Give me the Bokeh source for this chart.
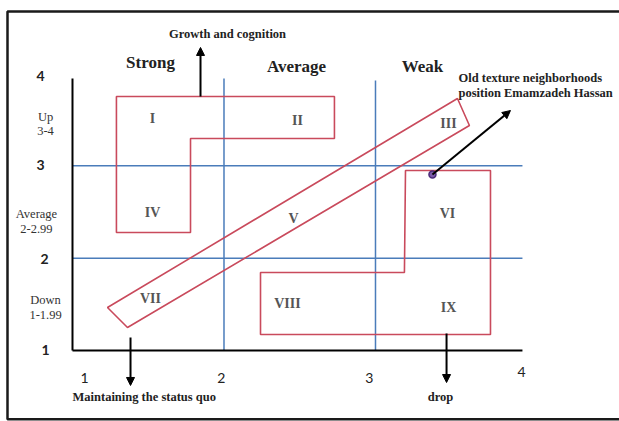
from bokeh.plotting import figure
from bokeh.models import Range1d, Arrow, NormalHead
from bokeh.core.properties import value
from bokeh.embed import file_html
from bokeh.resources import INLINE

# ---- data (diagram coordinates: x = performance score 1-4, y = trend score 1-4)
grid_x = [2, 3]
grid_y = [2, 3]
axis_x_end = 3.97
axis_y_end = 3.946

# zone polygons
zone_a_x = [1.290, 2.729, 2.729, 1.779, 1.779, 1.290]   # I, II, IV
zone_a_y = [3.751, 3.751, 3.296, 3.296, 2.278, 2.278]
zone_b_x = [1.231, 3.541, 3.620, 1.363]                 # VII, V, III band
zone_b_y = [1.466, 3.729, 3.437, 1.249]
zone_c_x = [3.198, 3.759, 3.759, 2.241, 2.241, 3.191]   # VI, VIII, IX
zone_c_y = [2.950, 2.950, 1.173, 1.173, 1.845, 1.845]

roman = ["I", "II", "III", "IV", "V", "VI", "VII", "VIII", "IX"]
roman_x = [1.528, 2.485, 3.482, 1.528, 2.459, 3.475, 1.515, 2.419, 3.482]
roman_y = [3.513, 3.491, 3.459, 2.495, 2.430, 2.484, 1.563, 1.509, 1.466]

col_labels = ["Strong", "Average", "Weak"]
col_x = [1.515, 2.479, 3.310]
col_y = [4.119, 4.076, 4.076]

xtick_labels = ["1", "2", "3", "4"]
xtick_x = [1.079, 1.983, 2.960, 3.964]
xtick_y = [0.697, 0.697, 0.697, 0.762]

ytick_labels = ["4", "3", "2", "1"]
ytick_x = [0.789, 0.789, 0.815, 0.822]
ytick_y = [3.978, 3.004, 1.996, 1.000]

row_labels = ["Up", "3-4", "Average", "2-2.99", "Down", "1-1.99"]
row_x = [0.822, 0.822, 0.762, 0.762, 0.822, 0.822]
row_y = [3.524, 3.372, 2.473, 2.321, 1.542, 1.379]

position_x = [3.376]
position_y = [2.906]
note_lines = ["Old texture neighborhoods", "position Emamzadeh  Hassan"]
note_x = [3.548, 3.548]
note_y = [3.946, 3.794]

# ---- figure
W, H = 619, 421
X0, X1 = 0.5248, 4.6106
Y0, Y1 = 0.2309, 4.7906
p = figure(width=W, height=H, output_backend="svg", toolbar_location=None,
           x_range=Range1d(X0, X1), y_range=Range1d(Y0, Y1),
           min_border=0, outline_line_color=None, background_fill_color="white")
p.axis.visible = False
p.grid.visible = False

RED = "#c94a5c"
BLUE = "#4a7cba"
SERIF = value("Liberation Serif")
SANS = value("Lato")

# frame
p.line([X1, 0.571, 0.571, X1], [4.672, 4.672, 0.254, 0.254],
       line_color="#1a1a1a", line_width=2.5)

# blue grid
for gx, top in zip(grid_x, [3.946, 3.925]):
    p.line([gx, gx], [1, top], line_color=BLUE, line_width=1.5)
for gy in grid_y:
    p.line([1, axis_x_end], [gy, gy], line_color=BLUE, line_width=1.5)

# axes
p.line([1, 1], [1, axis_y_end], line_color="black", line_width=2)
p.line([1, axis_x_end], [1, 1], line_color="black", line_width=2)

# zones
for zx, zy in [(zone_a_x, zone_a_y), (zone_b_x, zone_b_y), (zone_c_x, zone_c_y)]:
    p.patch(zx, zy, fill_color=None, line_color=RED, line_width=1.6)

# roman numerals
p.text(roman_x, roman_y, text=roman, text_font=SERIF, text_font_size="14px",
       text_font_style="bold", text_color="#555555", text_align="center",
       text_baseline="middle")

# column labels
p.text(col_x, col_y, text=col_labels, text_font=SERIF, text_font_size="17px",
       text_font_style="bold", text_color="#222222", text_align="center",
       text_baseline="middle")

# tick labels
p.text(xtick_x, xtick_y, text=xtick_labels, text_font=SANS, text_font_size="14px",
       text_color="#222222", text_align="center", text_baseline="middle")
p.text(ytick_x, ytick_y, text=ytick_labels, text_font=SANS, text_font_size="14px",
       text_font_style="bold", text_color="#222222", text_align="center",
       text_baseline="middle")
p.text(row_x, row_y, text=row_labels, text_font=SERIF, text_font_size="12.5px",
       text_color="#333333", text_align="center", text_baseline="middle")

# annotations
NOTE_SIZE = "12.5px"
p.text([2.023], [4.433], text=["Growth and cognition"], text_font=SERIF,
       text_font_size=NOTE_SIZE, text_font_style="bold", text_color="#222222",
       text_align="center", text_baseline="middle")
p.text([1.0], [0.491], text=["Maintaining  the status quo"], text_font=SERIF,
       text_font_size=NOTE_SIZE, text_font_style="bold", text_color="#222222",
       text_align="left", text_baseline="middle")
p.text([3.429], [0.491], text=["drop"], text_font=SERIF,
       text_font_size=NOTE_SIZE, text_font_style="bold", text_color="#222222",
       text_align="center", text_baseline="middle")
p.text(note_x, note_y, text=note_lines, text_font=SERIF,
       text_font_size=NOTE_SIZE, text_font_style="bold", text_color="#222222",
       text_align="left", text_baseline="middle")

# arrows
def arrow(x0, y0, x1, y1):
    p.add_layout(Arrow(end=NormalHead(size=8, fill_color="black", line_color="black"),
                       x_start=x0, y_start=y0, x_end=x1, y_end=y1,
                       line_color="black", line_width=2))

arrow(1.845, 3.751, 1.845, 4.282)
arrow(1.383, 1.141, 1.383, 0.621)
arrow(3.469, 1.184, 3.469, 0.653)
arrow(position_x[0], position_y[0], 3.891, 3.599)

# position marker
p.scatter(position_x, position_y, marker="circle", size=7, fill_color="#7a5aa8",
          line_color="#4a2a7a", line_width=1.5)

open("out.html", "w").write(file_html(p, INLINE))
